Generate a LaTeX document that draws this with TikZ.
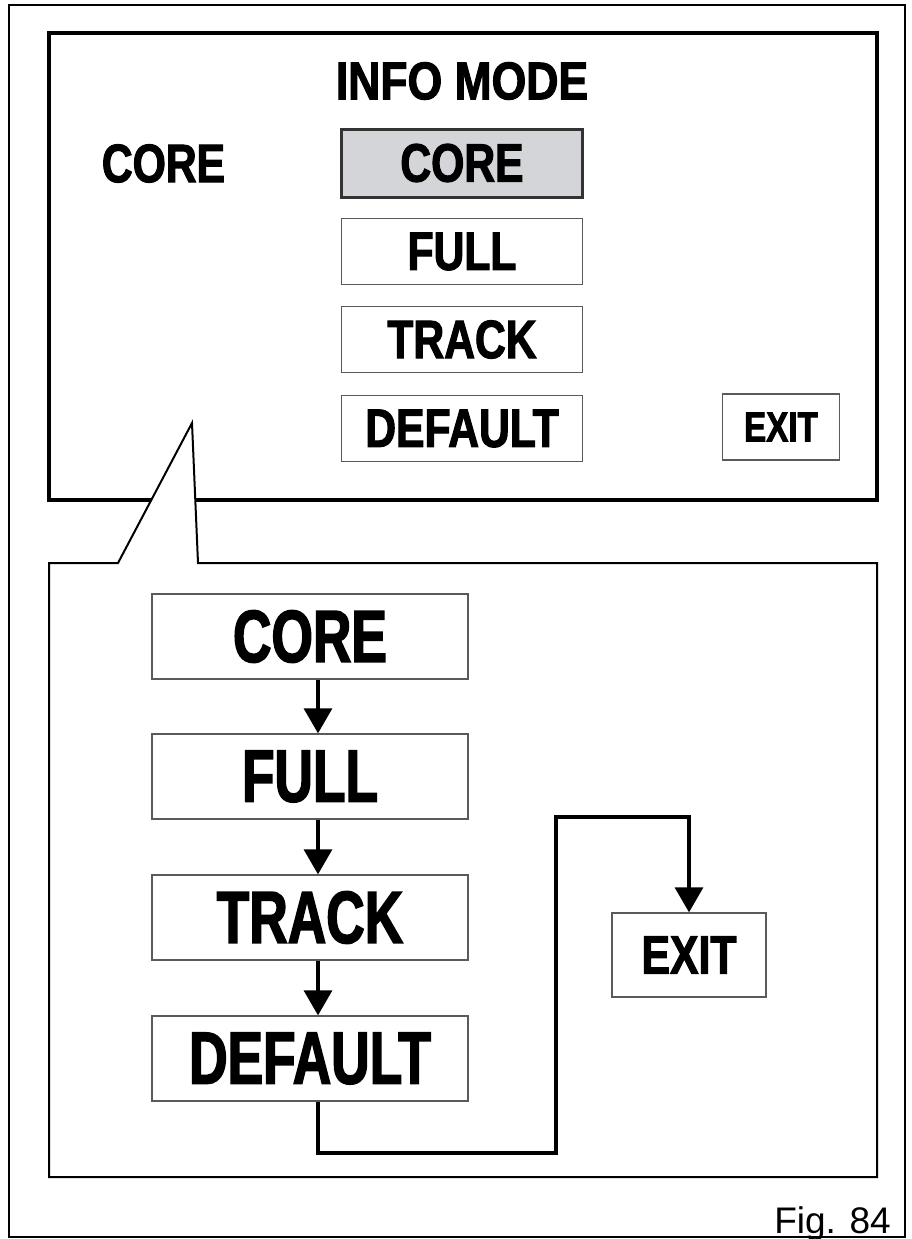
\documentclass[tikz,border=0pt]{standalone}
\usepackage{fontspec}
\setmainfont{Liberation Sans}
\newfontfamily\condT[FakeStretch=0.84,FakeBold=2]{Liberation Sans}
\newfontfamily\condA[FakeStretch=0.79,FakeBold=2]{Liberation Sans}
\newfontfamily\condB[FakeStretch=0.72,FakeBold=2]{Liberation Sans}
\usetikzlibrary{arrows.meta}
\definecolor{hl}{RGB}{212,213,216}
\definecolor{bord}{RGB}{90,90,90}
\tikzset{
  box/.style={draw=bord, line width=1.3pt, rectangle, inner sep=0pt, anchor=center},
  tbox/.style={box, minimum width=241pt, minimum height=66pt, font=\condA\bfseries\fontsize{54}{54}\selectfont},
  bbox/.style={box, minimum width=316pt, minimum height=85pt, font=\condB\bfseries\fontsize{74}{74}\selectfont},
  conn/.style={line width=3.3pt, -{Triangle[width=28pt,length=25pt]}},
  plain/.style={inner sep=0pt, anchor=center}
}
\begin{document}
\begin{tikzpicture}[x=1pt,y=-1pt]
\useasboundingbox (0,0) rectangle (911,1239);
% outer frame
\draw[line width=2pt] (9,5) rectangle (905,1237);
% top panel
\draw[line width=4.5pt] (49,33) rectangle (877,500);
% bottom panel with callout
\draw[line width=2pt, fill=white, line join=miter]
  (198,563) -- (192,423) -- (118,563) -- (49,563) -- (49,1177) -- (877,1177) -- (877,563) -- cycle;

% top panel contents
\node[plain, font=\condT\bfseries\fontsize{53}{53}\selectfont] (title) at (462,81) {INFO MODE};
\node[plain, font=\condA\bfseries\fontsize{54}{54}\selectfont] (cur) at (163.5,163.5) {CORE};
\node[tbox, fill=hl, draw=black!80, line width=3pt, minimum height=68pt] (c1) at (462,163) {CORE};
\node[tbox] (f1) at (462,251.5) {FULL};
\node[tbox] (t1) at (462,339.5) {TRACK};
\node[tbox] (d1) at (462,428.5) {DEFAULT};
\node[box, minimum width=117pt, minimum height=66pt, font=\condA\bfseries\fontsize{42}{42}\selectfont] (e1) at (781,427) {EXIT};

% bottom panel contents
\node[bbox] (c2) at (310,636.5) {CORE};
\node[bbox] (f2) at (310,776.5) {FULL};
\node[bbox] (t2) at (310,917.5) {TRACK};
\node[bbox] (d2) at (310,1058.5) {DEFAULT};
\node[box, minimum width=154pt, minimum height=84pt, font=\condA\bfseries\fontsize{54}{54}\selectfont] (e2) at (689,955) {EXIT};

\coordinate (ax) at (318,0);
\coordinate (j1) at (556,1153);
\coordinate (j2) at (556,817);
\draw[conn] (c2.south -| ax) -- (f2.north -| ax);
\draw[conn] (f2.south -| ax) -- (t2.north -| ax);
\draw[conn] (t2.south -| ax) -- (d2.north -| ax);
\draw[conn] (d2.south -| ax) |- (j1) -- (j2) -| (e2.north);

% figure label
\node[anchor=base east, inner sep=0pt, font=\fontsize{37}{37}\selectfont] (fig) at (891,1233) {Fig. 84};
\end{tikzpicture}
\end{document}
